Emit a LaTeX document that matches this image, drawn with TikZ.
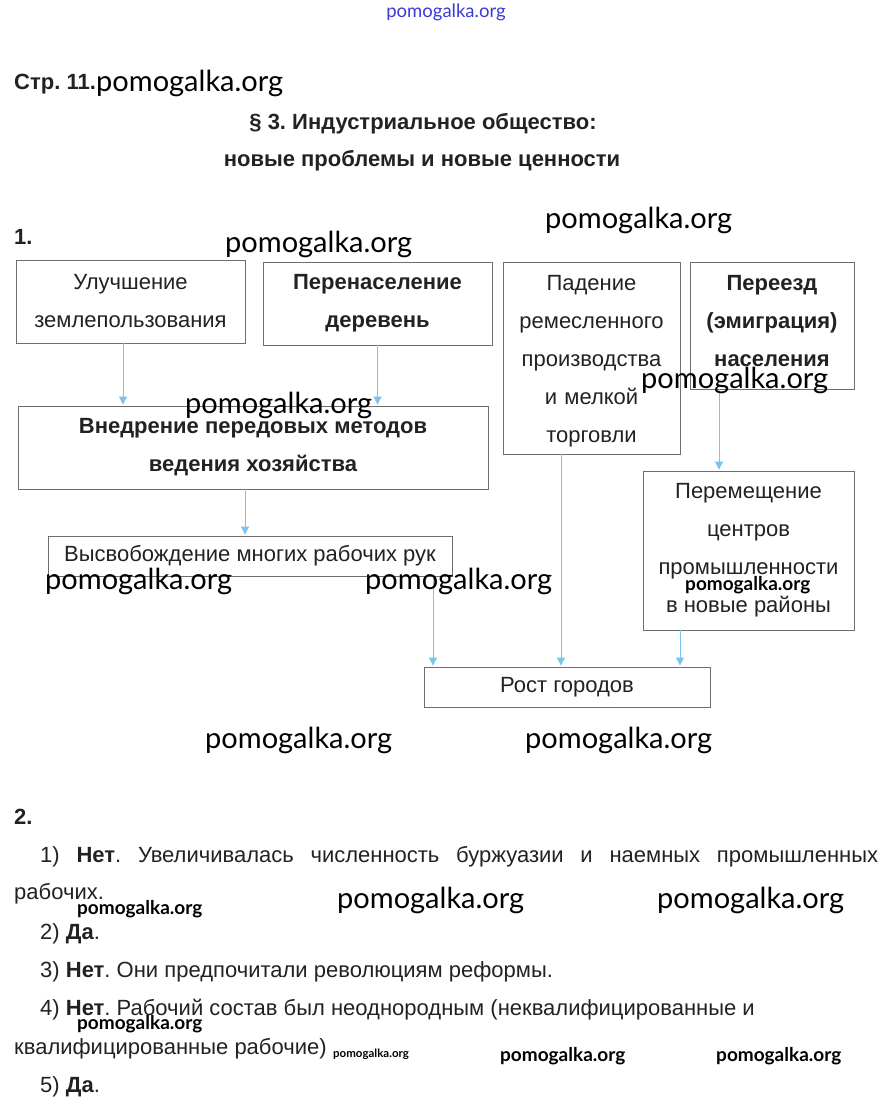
\documentclass[tikz,border=0pt]{standalone}
\usepackage{fontspec}
\setmainfont{Liberation Sans}
\newfontfamily\wm{Lato}
\usetikzlibrary{arrows.meta,calc}
\definecolor{arrowblue}{HTML}{7CC3EE}
\definecolor{boxgray}{HTML}{6E6E6E}
\definecolor{txt}{HTML}{222222}
\definecolor{wmblue}{HTML}{3A3AD8}
\frenchspacing
\begin{document}
\frenchspacing
\begin{tikzpicture}[x=1pt,y=-1pt,
  box/.style={draw=boxgray, line width=0.9pt, inner sep=0pt, align=center, text=txt,
    font=\frenchspacing\fontsize{22}{38}\selectfont},
  bbox/.style={box, font=\frenchspacing\fontsize{22}{38}\selectfont\bfseries},
  arr/.style={draw=arrowblue, line width=1pt, -{Triangle[width=8pt,length=8pt]}, shorten >=1pt},
  head/.style={inner sep=0pt, text=txt, font=\frenchspacing\fontsize{22}{24}\selectfont\bfseries},
  para/.style={inner sep=0pt, anchor=base west, text=txt, font=\frenchspacing\fontsize{22}{24}\selectfont},
  wmk/.style={inner sep=0pt, anchor=west, text=black, font=\wm\fontsize{29}{29}\selectfont},
  wms/.style={inner sep=0pt, anchor=west, text=black, font=\wm\fontsize{19}{19}\selectfont\bfseries},
  wmt/.style={inner sep=0pt, anchor=west, text=black, font=\wm\fontsize{11.5}{12}\selectfont\bfseries}
]
\useasboundingbox[fill=white] (0,0) rectangle (890,1113);

% headings
\node[head, anchor=base west] (h1) at (14,90) {Стр. 11.};
\node[head, anchor=base] (h2) at (423,129) {§ 3. Индустриальное общество:};
\node[head, anchor=base] (h3) at (422,166) {новые проблемы и новые ценности};
\node[head, anchor=base west] (n1) at (14,244) {1.};

% boxes
\node[box, minimum width=229pt, minimum height=83pt] (b1) at (130.5,301.5) {Улучшение\\землепользования};
\node[bbox, minimum width=229pt, minimum height=83pt] (b2) at (377.5,303.5) {Перенаселение\\деревень};
\node[box, minimum width=177pt, minimum height=192pt, text width=170pt,
      execute at end node={\par\vspace*{-6pt}}] (b3) at (591.5,358) {Падение\\ремесленного\\производства\\и мелкой\\торговли};
\node[bbox, minimum width=164pt, minimum height=127pt, text width=160pt,
      execute at end node={\par\vspace*{8pt}}] (b4) at (772,325.5) {Переезд\\(эмиграция)\\населения};
\node[bbox, minimum width=470pt, minimum height=83pt] (b5) at (253,447.5) {Внедрение передовых методов\\ведения хозяйства};
\node[box, minimum width=404pt, minimum height=40pt] (b6) at (250,556) {Высвобождение многих рабочих рук};
\node[box, minimum width=211pt, minimum height=159pt] (b7) at (748.5,550.5) {Перемещение\\центров\\промышленности\\в новые районы};
\node[box, minimum width=286pt, minimum height=40pt] (b8) at (567,687) {Рост городов};

% arrows
\draw[arr] ([xshift=-7.5pt]b1.south) -- ([xshift=-7.5pt]b1.south |- b5.north);
\draw[arr] (b2.south) -- (b2.south |- b5.north);
\draw[arr] ([xshift=-8pt]b5.south) -- ([xshift=-8pt]b5.south |- b6.north);
\draw[arr] ([xshift=183pt]b6.south) -- ([xshift=183pt]b6.south |- b8.north);
\draw[arr] ([xshift=-30.5pt]b3.south) -- ([xshift=-30.5pt]b3.south |- b8.north);
\draw[arr] ([xshift=-53pt]b4.south) -- ([xshift=-53pt]b4.south |- b7.north);
\draw[arr] ([xshift=-68.5pt]b7.south) -- ([xshift=-68.5pt]b7.south |- b8.north);

% section 2
\node[head, anchor=base west] (n2) at (14,824) {2.};
\node[para] (p1) at (40,862) {\makebox[838pt][s]{1) \textbf{Нет}. Увеличивалась численность буржуазии и наемных промышленных}};
\node[para] (p1b) at (14,899) {рабочих.};
\node[para] (p2) at (40,939) {2) \textbf{Да}.};
\node[para] (p3) at (40,977) {3) \textbf{Нет}. Они предпочитали революциям реформы.};
\node[para] (p4) at (40,1015) {4) \textbf{Нет}. Рабочий состав был неоднородным (неквалифицированные и};
\node[para] (p4b) at (14,1054) {квалифицированные рабочие)};
\node[para] (p5) at (40,1092) {5) \textbf{Да}.};

% watermarks
\node[inner sep=0pt, text=wmblue, font=\wm\fontsize{18.5}{18.5}\selectfont] (w0) at (446,12) {pomogalka.org};
\node[wmk] (w1) at (96,83) {pomogalka.org};
\node[wmk] (w2) at (545,220) {pomogalka.org};
\node[wmk] (w3) at (225,244) {pomogalka.org};
\node[wmk] (w4) at (185,405) {pomogalka.org};
\node[wmk] (w5) at (641,380) {pomogalka.org};
\node[wmk] (w6) at (45,581) {pomogalka.org};
\node[wmk] (w7) at (365,581) {pomogalka.org};
\node[wms] (w8) at (685,585) {pomogalka.org};
\node[wmk] (w9) at (205,740) {pomogalka.org};
\node[wmk] (w10) at (525,740) {pomogalka.org};
\node[wmk] (w11) at (337,900) {pomogalka.org};
\node[wmk] (w12) at (657,900) {pomogalka.org};
\node[wms] (w13) at (77,909) {pomogalka.org};
\node[wms] (w14) at (77,1024) {pomogalka.org};
\node[wmt] (w15) at (333,1054) {pomogalka.org};
\node[wms] (w16) at (500,1056) {pomogalka.org};
\node[wms] (w17) at (716,1056) {pomogalka.org};
\end{tikzpicture}
\end{document}
